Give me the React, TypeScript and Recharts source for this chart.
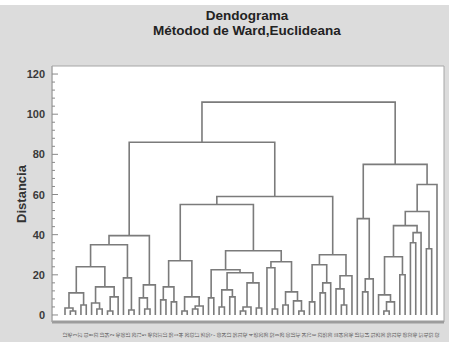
import React from "react";
import { LineChart, Line, XAxis, YAxis, ReferenceArea, CartesianGrid } from "recharts";

// a cluster is [left, right, merge distance]; 0 is one observation
type Node = 0 | [Node, Node, number];

const groupA1: Node = [
  [
    [[[0, [0, 0, 2], 3.5], [0, 0, 5], 11], [[0, [0, 0, 3], 6], [[0, 0, 2], 0, 9], 14], 24],
    [0, [0, 0, 2.5], 18.5],
    35,
  ],
  [[0, [0, 0, 3], 8.5], 0, 15],
  39.5,
];
const groupA2aL: Node = [[[0, 0, 7.5], [0, 0, 6.5], 14], [[0, 0, 2], [[0, 0, 3], 0, 4.5], 9], 27];
const groupA2aR: Node = [
  [[0, 0, 8.5], [[[0, 0, 4], [0, 0, 9], 12.5], [[[0, 0, 2], 0, 4], [0, 0, 3.5], 16], 21], 22.5],
  [[0, [0, 0, 3], 23.5], [[0, 0, 5], [0, [0, 0, 2], 7], 11.5], 26.5],
  32,
];
const groupA2b: Node = [[[0, 0, 6.5], [[0, 0, 11], 0, 16], 25], [[0, [0, 0, 5], 13], 0, 19.5], 30];
const groupBL: Node = [0, [[0, 0, 11.5], 0, 18], 48];
const groupBR: Node = [
  [[[[0, [[0, 0, 2], 0, 6.5], 10], [0, 0, 20], 29], [[0, 0, 36], 0, 41], 44.5], [0, 0, 33], 51.5],
  0,
  65,
];
const tree: Node = [
  [groupA1, [[groupA2aL, groupA2aR, 55], groupA2b, 59], 86],
  [groupBL, groupBR, 75],
  106,
];

const leafLabels = [
  12, 45, 3, 27, 61, 8, 33, 19, 54, 2, 40, 66, 15, 29, 71, 5, 48, 22, 37, 10, 58, 1, 44, 26, 63,
  17, 35, 50, 7, 69, 24, 13, 56, 31, 42, 4, 65, 20, 38, 52, 9, 28, 60, 16, 47, 34, 70, 6, 23, 55,
  39, 11, 64, 30, 46, 18, 67, 14, 51, 25, 36, 59, 21, 43, 68, 32, 49, 57, 41, 53, 62,
];
const yTicks = [0, 4, 8, 12, 16, 20, 24, 28, 32, 36, 40, 44, 48, 52, 56, 60, 64, 68, 72, 76, 80, 84, 88, 92, 96, 100, 104, 108, 112, 116, 120];

type Pt = { x: number; y: number };
const links: Pt[][] = [];
let leafCount = 0;
const place = (n: Node): Pt => {
  if (n === 0) return { x: leafCount++, y: 0 };
  const a = place(n[0]);
  const b = place(n[1]);
  links.push([a, { x: a.x, y: n[2] }, { x: b.x, y: n[2] }, b]);
  return { x: (a.x + b.x) / 2, y: n[2] };
};
place(tree);
const leaves = Array.from({ length: leafCount }, (_, i) => i);
const last = leafCount - 1;
const xDomain = [(-13 * last) / 372, last + (7 * last) / 372];

const LINE = "#7b7b7b";
const FRAME = "#a6a6a6";
const FONT = "Liberation Sans, Arial, sans-serif";

const LeftTick = (props: any) => {
  const { x, y, payload } = props;
  const major = payload.value % 20 === 0;
  return (
    <g>
      <line x1={x} x2={x + (major ? 6 : 3)} y1={y} y2={y} stroke="#8a8a8a" />
      {major && (
        <text x={x - 7} y={y} dy={4} textAnchor="end" fontSize={11} fontWeight="bold" fill="#3a3a3a" fontFamily={FONT}>
          {payload.value}
        </text>
      )}
    </g>
  );
};

const RightTick = (props: any) => {
  const { x, y, payload } = props;
  const major = payload.value % 20 === 0;
  return <line x1={x - (major ? 6 : 3)} x2={x} y1={y} y2={y} stroke="#8a8a8a" />;
};

const LeafTick = (props: any) => {
  const { x, y, payload } = props;
  const label = leafLabels[payload.value] ?? payload.value + 1;
  return (
    <text
      x={x + 1.5}
      y={y + 13}
      transform={`rotate(-90 ${x + 1.5} ${y + 13})`}
      textAnchor="middle"
      fontSize={4.5}
      fill="#555"
      fontFamily={FONT}
    >
      {label}
    </text>
  );
};

export default function App() {
  return (
    <div style={{ position: "fixed", left: 0, top: 0, width: 449, height: 342, background: "#fff" }}>
      <div style={{ position: "absolute", left: 0, top: 5, width: 449, height: 337, background: "#dcdcdc" }} />
      <div style={{ position: "absolute", left: 0, top: 8, width: 494, textAlign: "center", fontFamily: FONT, fontWeight: "bold", fontSize: 13.5, color: "#222", lineHeight: "15px" }}>
        Dendograma
        <br />
        Métodod de Ward,Euclideana
      </div>
      <div style={{ position: "absolute", left: 21, top: 194, transform: "translate(-50%, -50%) rotate(-90deg)", fontFamily: FONT, fontWeight: "bold", fontSize: 13, color: "#333", whiteSpace: "nowrap" }}>
        Distancia
      </div>
      <div style={{ position: "absolute", left: 0, top: 0 }}>
        <LineChart width={449} height={342} margin={{ top: 66, right: 5, bottom: 0, left: 0 }}>
          <CartesianGrid fill="#ffffff" horizontal={false} vertical={false} />
          <XAxis
            type="number"
            dataKey="x"
            domain={xDomain}
            ticks={leaves}
            interval={0}
            height={20}
            tickSize={0}
            tickMargin={0}
            tick={<LeafTick />}
            axisLine={{ stroke: "#9c9c9c", strokeWidth: 3 }}
            tickLine={false}
            allowDataOverflow
          />
          <YAxis
            yAxisId="l"
            type="number"
            domain={[-3.5, 124]}
            ticks={yTicks}
            interval={0}
            width={52}
            tickSize={0}
            tickMargin={0}
            tick={<LeftTick />}
            axisLine={{ stroke: FRAME }}
            tickLine={false}
            allowDataOverflow
          />
          <YAxis
            yAxisId="r"
            orientation="right"
            type="number"
            domain={[-3.5, 124]}
            ticks={yTicks}
            interval={0}
            width={0}
            tickSize={0}
            tickMargin={0}
            tick={<RightTick />}
            axisLine={{ stroke: FRAME }}
            tickLine={false}
            allowDataOverflow
          />
          <ReferenceArea yAxisId="l" x1={xDomain[0]} x2={xDomain[1]} y1={-3.5} y2={124} fill="none" stroke={FRAME} />
          {links.map((pts, i) => (
            <Line
              key={i}
              yAxisId="l"
              data={pts}
              dataKey="y"
              type="linear"
              stroke={LINE}
              strokeWidth={1.6}
              dot={false}
              activeDot={false}
              isAnimationActive={false}
            />
          ))}
        </LineChart>
      </div>
    </div>
  );
}
